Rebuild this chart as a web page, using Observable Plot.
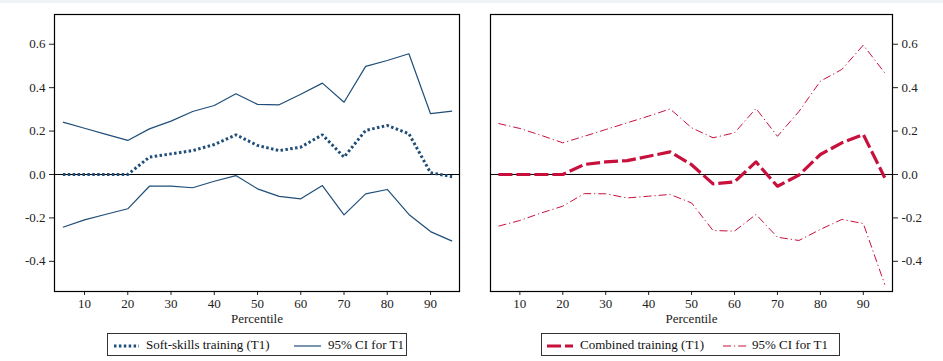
<!DOCTYPE html>
<html>
<head>
<meta charset="utf-8">
<script src="https://cdn.jsdelivr.net/npm/d3@7"></script>
<script src="https://cdn.jsdelivr.net/npm/@observablehq/plot@0.6"></script>
<style>
  html, body { margin: 0; padding: 0; background: #fff; }
  body { width: 943px; height: 361px; position: relative; overflow: hidden; font-family: "Liberation Serif", "DejaVu Serif", serif; }
  #band { position: absolute; left: 0; top: 0; width: 943px; height: 3px; background: #eef3f5; }
  .panel { position: absolute; top: 0; }
  .panel svg, .panel svg text { font-family: "Liberation Serif", "DejaVu Serif", serif !important; }
  .legend { position: absolute; top: 333px; height: 23px; border: 1px solid #333; box-sizing: border-box; font-size: 13px; color: #111; font-family: "Liberation Serif", serif; }
  .legend svg { position: absolute; top: 0; }
  .legend span { position: absolute; top: 3px; white-space: nowrap; }
</style>
</head>
<body>
<div id="band"></div>
<div id="left" class="panel" style="left:0px"></div>
<div id="right" class="panel" style="left:470px"></div>
<div class="legend" style="left:107px; width:300px;">
  <svg width="300" height="22">
    <line x1="6" x2="31" y1="12" y2="12" stroke="#1f4e79" stroke-width="3" stroke-dasharray="2.5,2.4"></line>
    <line x1="186" x2="213" y1="12" y2="12" stroke="#1f4e79" stroke-width="1.2"></line>
  </svg>
  <span style="left:38px">Soft-skills training (T1)</span>
  <span style="left:220px">95% CI for T1</span>
</div>
<div class="legend" style="left:541px; width:299px;">
  <svg width="299" height="22">
    <line x1="5" x2="31" y1="12" y2="12" stroke="#c8103c" stroke-width="3.2" stroke-dasharray="14,4"></line>
    <line x1="181" x2="205" y1="12" y2="12" stroke="#c8103c" stroke-width="1" stroke-dasharray="8,3,1.2,3"></line>
  </svg>
  <span style="left:38px">Combined training (T1)</span>
  <span style="left:210px">95% CI for T1</span>
</div>
<script>
const pct = [5,10,15,20,25,30,35,40,45,50,55,60,65,70,75,80,85,90,95];
const softEst = [0,0,0,0,0.080,0.095,0.110,0.138,0.183,0.134,0.110,0.126,0.183,0.080,0.203,0.226,0.188,0.008,-0.010];
const softHi  = [0.241,0.213,0.185,0.157,0.210,0.246,0.290,0.318,0.372,0.323,0.321,0.370,0.421,0.333,0.498,0.525,0.556,0.280,0.292];
const softLo  = [-0.243,-0.209,-0.183,-0.158,-0.054,-0.054,-0.061,-0.031,-0.005,-0.066,-0.101,-0.112,-0.051,-0.186,-0.089,-0.069,-0.184,-0.263,-0.307];
const combEst = [0,0,0,0,0.046,0.058,0.064,0.084,0.104,0.045,-0.043,-0.034,0.058,-0.054,-0.003,0.092,0.146,0.184,-0.015];
const combHi  = [0.235,0.212,0.180,0.146,0.176,0.207,0.238,0.269,0.302,0.215,0.169,0.192,0.304,0.176,0.290,0.430,0.484,0.596,0.468];
const combLo  = [-0.238,-0.212,-0.177,-0.146,-0.088,-0.089,-0.108,-0.100,-0.092,-0.131,-0.258,-0.261,-0.184,-0.289,-0.304,-0.253,-0.207,-0.226,-0.507];
const xTicks = [10,20,30,40,50,60,70,80,90];
const yTicks = [-0.4,-0.2,0,0.2,0.4,0.6];

const navy = "#1f4e79";
const red = "#c8103c";
const fmt = d => d.toFixed(1);
const rows = (ys) => pct.map((p, i) => ({p, v: ys[i]}));

function panel({width, mLeft, mRight, xDomain, yAnchor, est, hi, lo, estStyle, ciStyle}) {
  return Plot.plot({
    width, height: 330,
    marginLeft: mLeft, marginRight: mRight, marginTop: 14, marginBottom: 39,
    style: {fontFamily: "Liberation Serif, serif", fontSize: "13px", color: "#222", background: "transparent"},
    x: {domain: xDomain, ticks: xTicks, tickSize: 4, tickPadding: 3, label: "Percentile", labelAnchor: "center", labelArrow: false, labelOffset: 31, tickFormat: d => String(d)},
    y: {domain: [-0.539, 0.737], ticks: yTicks, tickSize: 5, tickPadding: 4, tickFormat: fmt, label: null, axis: yAnchor},
    marks: [
      Plot.ruleY([0], {stroke: "#000", strokeWidth: 1}),
      Plot.line(rows(hi), {x: "p", y: "v", strokeLinecap: "butt", ...ciStyle}),
      Plot.line(rows(lo), {x: "p", y: "v", strokeLinecap: "butt", ...ciStyle}),
      Plot.line(rows(est), {x: "p", y: "v", strokeLinecap: "butt", ...estStyle}),
      Plot.frame({stroke: "#000", strokeWidth: 1.2})
    ]
  });
}

document.getElementById("left").append(panel({
  width: 470, mLeft: 54, mRight: 11, xDomain: [3.06, 96.7], yAnchor: "left",
  est: softEst, hi: softHi, lo: softLo,
  estStyle: {stroke: navy, strokeWidth: 3, strokeDasharray: "2.5,2.4", strokeLinejoin: "miter"},
  ciStyle: {stroke: navy, strokeWidth: 1.2}
}));

document.getElementById("right").append(panel({
  width: 473, mLeft: 20, mRight: 51, xDomain: [3.16, 96.8], yAnchor: "right",
  est: combEst, hi: combHi, lo: combLo,
  estStyle: {stroke: red, strokeWidth: 3.2, strokeDasharray: "14,4"},
  ciStyle: {stroke: red, strokeWidth: 1, strokeDasharray: "8,3,1.2,3"}
}));
</script>
</body>
</html>
